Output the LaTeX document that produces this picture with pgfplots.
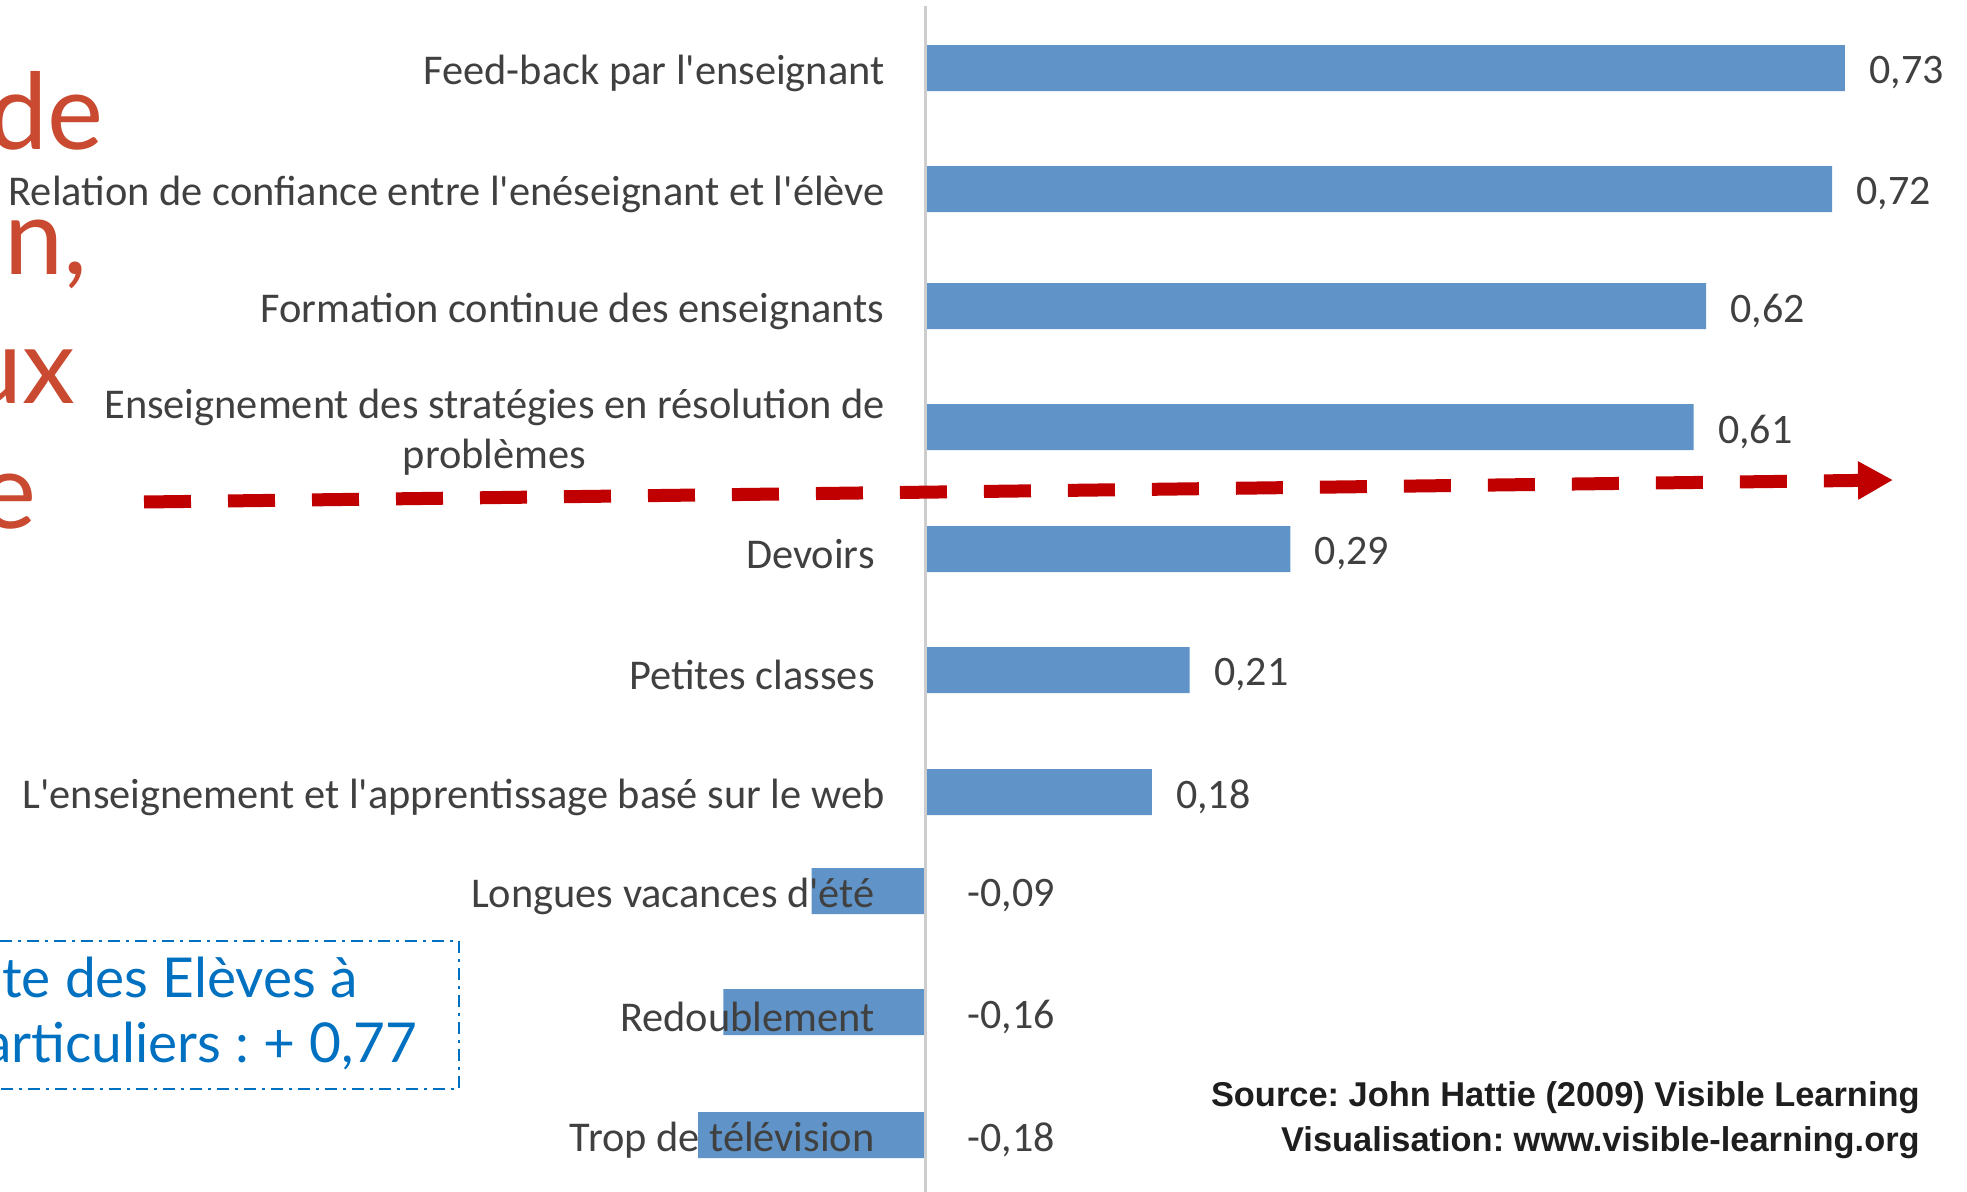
\documentclass[border=0pt]{standalone}
\usepackage{fontspec}
\setmainfont{Carlito}
\newfontfamily\bigfont{Lato}
\newfontfamily\srcfont{Liberation Sans}
\usepackage{pgfplots}
\pgfplotsset{compat=1.18}
\usetikzlibrary{arrows.meta}
\definecolor{barblue}{RGB}{96,148,200}
\definecolor{slidered}{RGB}{201,74,48}
\definecolor{arrowred}{RGB}{192,0,0}
\definecolor{boxblue}{RGB}{0,112,192}
\definecolor{lbl}{RGB}{64,64,64}
\definecolor{axgray}{RGB}{205,205,205}
\definecolor{srcgray}{RGB}{30,30,30}
\newcommand{\ap}{\textquotesingle}
\frenchspacing
\begin{document}
\begin{tikzpicture}
\useasboundingbox (0pt,0pt) rectangle (983.5pt,-596pt);
\clip (0pt,0pt) rectangle (983.5pt,-596pt);
\begin{axis}[
  at={(336.5pt,-596pt)}, anchor=south west,
  scale only axis, width=630pt, height=593pt,
  xmin=-0.2, xmax=0.8, ymin=6, ymax=1192, y dir=reverse,
  enlargelimits=false, clip=false, axis on top,
  axis y line=center, axis x line=none,
  axis line style={draw=axgray, line width=1.5pt, -},
  every inner y axis line/.append style={-},
  xtick=\empty,
  ytick={68,189,306,427,549,670,792,891,1012,1135},
  yticklabels={
    Feed-back par l\ap enseignant,
    Relation de confiance entre l\ap enéseignant et l\ap élève,
    Formation continue des enseignants,
    {Enseignement des stratégies en résolution de\\problèmes},
    Devoirs\hspace*{5pt},
    Petites classes\hspace*{5pt},
    L\ap enseignement et l\ap apprentissage basé sur le web,
    Longues vacances d\ap été\hspace*{5pt},
    Redoublement\hspace*{5pt},
    Trop de télévision\hspace*{5pt}},
  major tick length=0pt,
  yticklabel style={font=\fontsize{21.2}{25}\selectfont, text=lbl, align=center, anchor=east, inner sep=0pt, xshift=-20pt, yshift=-2.5pt},
]
\addplot[xbar, bar shift=0pt, bar width=46, fill=barblue, draw=none,
  point meta=x,
  nodes near coords={\pgfmathprintnumber[assume math mode=true,use comma,fixed,fixed zerofill,precision=2]{\pgfplotspointmeta}},
  every node near coord/.append style={font=\fontsize{21}{25}\selectfont, text=lbl, anchor=west, inner sep=0pt, xshift=12pt, yshift=-2.5pt}]
  coordinates {(0.73,68) (0.72,189) (0.62,306) (0.61,427) (0.29,549) (0.21,670) (0.18,792)};
\addplot[xbar, bar shift=0pt, bar width=46, fill=barblue, draw=none]
  coordinates {(-0.09,891) (-0.16,1012) (-0.18,1135)};
\addplot[draw=none, mark=none, point meta=explicit,
  nodes near coords={\pgfmathprintnumber[assume math mode=true,use comma,fixed,fixed zerofill,precision=2]{\pgfplotspointmeta}},
  every node near coord/.append style={font=\fontsize{21}{25}\selectfont, text=lbl, anchor=west, inner sep=0pt, xshift=21pt, yshift=-2.5pt}]
  coordinates {(0,891) [-0.09] (0,1012) [-0.16] (0,1135) [-0.18]};
\end{axis}
\begin{scope}[x=0.5pt,y=-0.5pt]
\node[anchor=base east, inner sep=0pt, text=slidered, font=\bigfont\fontsize{53}{56}\selectfont] at (104,150) {de};
\node[anchor=base east, inner sep=0pt, text=slidered, font=\bigfont\fontsize{53}{56}\selectfont] at (88,275) {n,};
\node[anchor=base east, inner sep=0pt, text=slidered, font=\bigfont\fontsize{53}{56}\selectfont] at (76,404) {ux};
\node[anchor=base east, inner sep=0pt, text=slidered, font=\bigfont\fontsize{53}{56}\selectfont] at (37,529) {e};
\draw[arrowred, line width=6.5pt, dash pattern=on 23.5pt off 18.5pt, -{Triangle[length=17.5pt, width=18pt]}] (144,502) -- (1893,480);
\draw[boxblue, line width=1pt, dash pattern=on 6pt off 3pt on 1.5pt off 3pt] (0,941) -- (459,941) -- (459,1089) -- (0,1089);
\node[anchor=base east, inner sep=0pt, text=boxblue, font=\bigfont\fontsize{27.5}{30}\selectfont] at (358,997) {te des Elèves à};
\node[anchor=base east, inner sep=0pt, text=boxblue, font=\bigfont\fontsize{27.5}{30}\selectfont] at (418,1062) {articuliers : + 0,77};
\node[anchor=base east, inner sep=0pt, text=srcgray, font=\srcfont\bfseries\fontsize{17.2}{20}\selectfont] at (1920,1106) {Source: John Hattie (2009) Visible Learning};
\node[anchor=base east, inner sep=0pt, text=srcgray, font=\srcfont\bfseries\fontsize{17.2}{20}\selectfont] at (1920,1151) {Visualisation: www.visible-learning.org};
\end{scope}
\end{tikzpicture}
\end{document}
